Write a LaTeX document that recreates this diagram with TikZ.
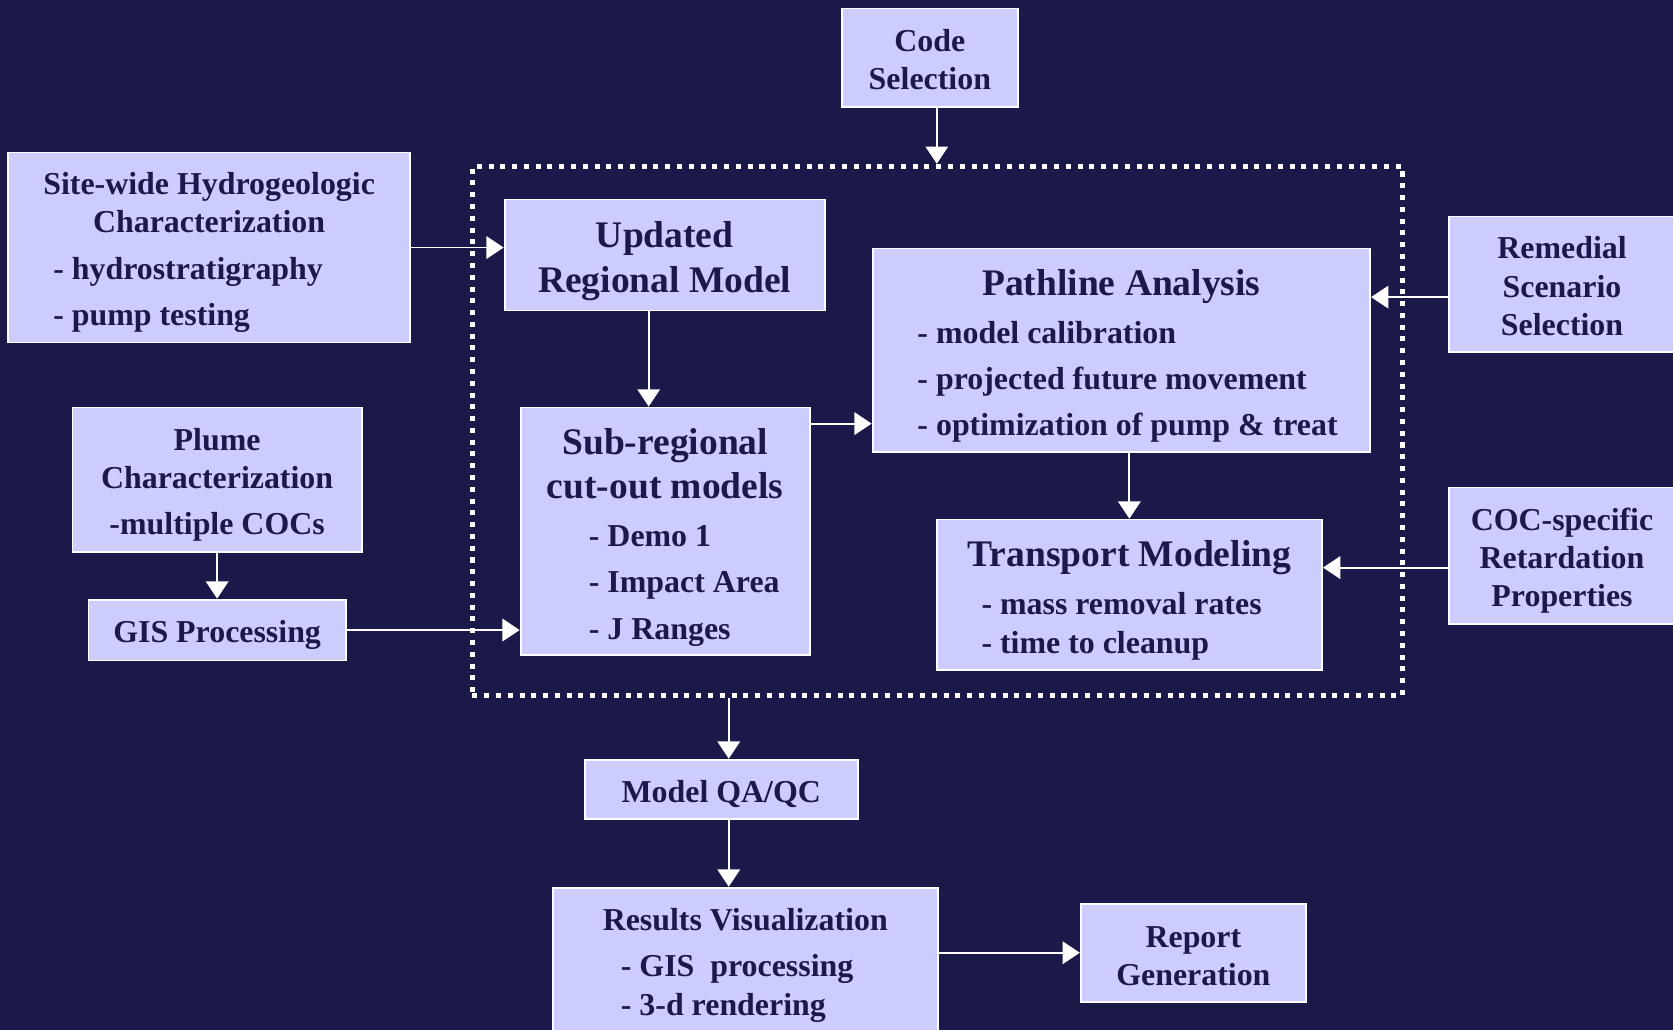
\documentclass[tikz,border=0pt]{standalone}
\usepackage{fontspec}
\setmainfont{Liberation Serif}
\usetikzlibrary{arrows.meta}
\definecolor{navy}{RGB}{27,25,73}
\definecolor{lav}{RGB}{204,204,255}
\newcommand\smallfnt{\fontsize{8.5}{10.2}\selectfont\bfseries}
\newcommand\bigfnt{\fontsize{10}{12}\selectfont\spaceskip=0.25em}
\newcommand\ttl[1]{\makebox[\linewidth]{#1}}
\newcommand\itm[2]{\hspace*{#1}- #2}
\tikzset{
  box/.style={draw=white,line width=0.5pt,fill=lav,text=navy,inner sep=0pt,font=\smallfnt,
    execute at begin node={\spaceskip=0.25em\rule{0pt}{#1}}},
  box/.default=8.6pt,
  dotbox/.style={draw=white,line width=1.34pt,dash pattern=on 1.34pt off 1.8pt},
  arr/.style={-{Triangle[length=4.6pt,width=6pt]},white,line width=0.5pt}
}
\begin{document}
\begin{tikzpicture}[x=0.01cm,y=-0.01cm]
		\fill[navy] (0,0) rectangle (1568,965);
		\useasboundingbox (0,0) rectangle (1568,965);
		\node[dotbox,minimum width=8.71cm,minimum height=4.96cm] (core) at (878.5,404) {};
		\node[box=6.9pt,text width=1.65cm,align=center,minimum height=0.92cm] (code) at (871.5,54) {Code\\Selection};
		\node[box,text width=3.76cm,align=left,minimum height=1.78cm] (site) at (196,232)
			{\ttl{Site-wide Hydrogeologic}\\\ttl{Characterization}\\[2.3pt]\itm{0.42cm}{hydrostratigraphy}\\[2pt]\itm{0.42cm}{pump testing}};
		\node[box=10.2pt,font=\smallfnt\bigfnt,text width=3cm,align=center,minimum height=1.04cm] (upd) at (623,239) {Updated\\{\bigfnt Regional Model}};
		\node[box=9.9pt,text width=4.66cm,align=left,minimum height=1.91cm] (path) at (1051,328.5)
			{{\bigfnt\ttl{Pathline Analysis}}\\[2.6pt]\itm{0.42cm}{model calibration}\\[2pt]\itm{0.42cm}{projected future movement}\\[2pt]\itm{0.42cm}{optimization of pump \& treat}};
		\node[box=6.9pt,text width=2.12cm,align=center,minimum height=1.27cm] (rem) at (1464,266.5) {Remedial\\Scenario\\Selection};
		\node[box,text width=2.71cm,align=center,minimum height=1.35cm] (plume) at (203.5,449.5) {Plume\\Characterization\\[2pt]-multiple COCs};
		\node[box,text width=2.41cm,align=center,minimum height=0.57cm] (gis) at (203.5,590.5) {GIS Processing};
		\node[box=10.2pt,text width=2.71cm,align=left,minimum height=2.32cm] (sub) at (623.5,498)
			{{\bigfnt\ttl{Sub-regional}}\\[1.5pt]{\bigfnt\ttl{cut-out models}}\\[2.6pt]\itm{0.64cm}{Demo 1}\\[2.1pt]\itm{0.64cm}{Impact Area}\\[2.1pt]\itm{0.64cm}{J Ranges}};
		\node[box=9.9pt,text width=3.61cm,align=left,minimum height=1.41cm] (trans) at (1058.5,557.5)
			{{\bigfnt\ttl{Transport Modeling}}\\[2.6pt]\itm{0.42cm}{mass removal rates}\\\itm{0.42cm}{time to cleanup}};
		\node[box,text width=2.12cm,align=center,minimum height=1.28cm] (coc) at (1464,521) {COC-specific\\Retardation\\Properties};
		\node[box=8.1pt,text width=2.56cm,align=center,minimum height=0.56cm] (qa) at (676,740) {Model QA/QC};
		\node[box=8.1pt,text width=3.61cm,align=left,minimum height=1.38cm] (res) at (698.5,901)
			{\ttl{Results Visualization}\\[2pt]\itm{0.64cm}{GIS\ \ processing}\\\itm{0.64cm}{3-d rendering}};
		\node[box=7.5pt,text width=2.11cm,align=center,minimum height=0.92cm] (rep) at (1118.5,893) {Report\\Generation};
		\draw[arr] ([xshift=0.065cm]code.south) -- ([xshift=0.065cm]code.south |- core.north);
		\draw[arr] (site.east) -- (site.east -| upd.west);
		\draw[arr] ([xshift=-0.15cm]upd.south) -- ([xshift=-0.15cm]upd.south |- sub.north);
		\draw[arr] ([yshift=-0.16cm]sub.north east) -- ([yshift=-0.16cm]sub.north east -| path.west);
		\draw[arr] ([yshift=-0.12cm]rem.west) -- ([yshift=-0.12cm]rem.west -| path.east);
		\draw[arr] (path.south -| trans.north) -- (trans.north);
		\draw[arr] ([yshift=-0.11cm]coc.west) -- ([yshift=-0.11cm]coc.west -| trans.east);
		\draw[arr] (plume) -- (gis);
		\draw[arr] (gis) -- (gis -| sub.west);
		\draw[arr] ([xshift=0.07cm]qa.north |- core.south) -- ([xshift=0.07cm]qa.north);
		\draw[arr] ([xshift=0.07cm]qa.south) -- ([xshift=0.07cm]qa.south |- res.north);
		\draw[arr] (rep -| res.east) -- (rep);
		\end{tikzpicture}
\end{document}
